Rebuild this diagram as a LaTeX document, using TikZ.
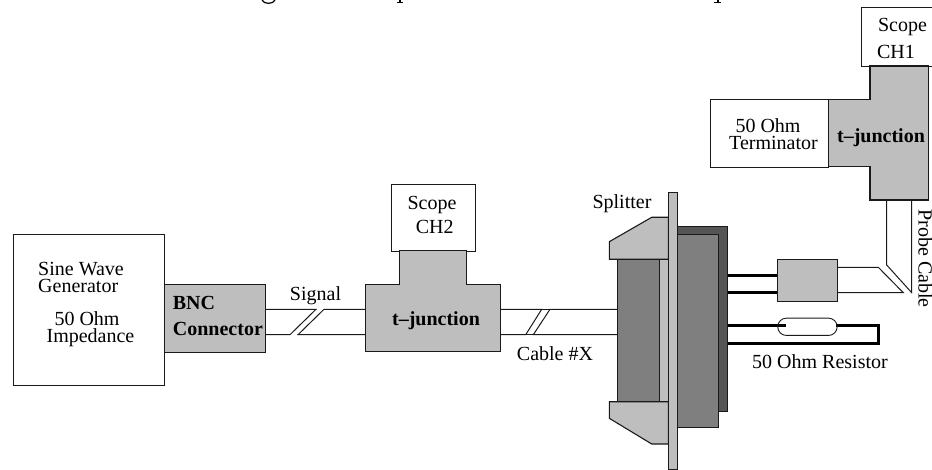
\documentclass[tikz,border=0pt]{standalone}
\usepackage{fontspec}
\setmainfont{Liberation Serif}
\definecolor{lgray}{HTML}{BEBEBE}
\definecolor{mgray}{HTML}{7F7F7F}
\definecolor{dgray}{HTML}{555555}
\definecolor{ink}{HTML}{1A1A1A}
\tikzset{
  ln/.style={draw=ink,line width=1.1pt,line join=miter},
  lite/.style={ln,fill=lgray},
  mid/.style={ln,fill=mgray},
  wire/.style={draw=black,line width=3pt},
  thin wire/.style={draw=ink,line width=1pt},
  lbl/.style={inner sep=0pt,anchor=base,font=\fontsize{20}{20}\selectfont},
  blbl/.style={lbl,font=\fontsize{20}{20}\selectfont\bfseries},
}
\begin{document}
\begin{tikzpicture}[x=1pt,y=-1pt]
\useasboundingbox (0,0) rectangle (932,470);
% cut-off title descenders
\draw[black,line width=1.2pt] (262,0) .. controls (264,4.5) and (273,4.5) .. (275,0);
\draw[black,line width=1.4pt] (396.7,2.5) -- (403,2.5);
\draw[black,line width=2pt] (400,0) -- (400,2.5);
\draw[black,line width=1.4pt] (714,2.5) -- (720.7,2.5);
\draw[black,line width=2pt] (717.5,0) -- (717.5,2.5);
% cables
\coordinate (a1) at (265,309.3); \coordinate (a2) at (316,309.3); \coordinate (a3) at (290,334.7);
\coordinate (a4) at (265,334.7); \coordinate (a5) at (324,309.3); \coordinate (a6) at (298,334.7);
\coordinate (a7) at (365.7,309.3); \coordinate (a8) at (365.7,334.7);
\draw[thin wire] (a1)--(a2)--(a3)--(a4);
\draw[thin wire] (a7)--(a5)--(a6)--(a8);
\coordinate (b1) at (500,309.3); \coordinate (b2) at (541.7,309.3); \coordinate (b3) at (525.7,334.7);
\coordinate (b4) at (500,334.7); \coordinate (b5) at (550,309.3); \coordinate (b6) at (533.3,334.7);
\coordinate (b7) at (617.3,309.3); \coordinate (b8) at (617.3,334.7);
\draw[thin wire] (b1)--(b2)--(b3)--(b4);
\draw[thin wire] (b7)--(b5)--(b6)--(b8);
\draw[thin wire] (b2)--(b5); \draw[thin wire] (b3)--(b6);
% generator and BNC
\node[ln,fill=white,minimum width=151.6pt,minimum height=151pt,inner sep=0pt,anchor=north west] (gen) at (12.7,234) {};
\node[lite,minimum width=100.7pt,minimum height=67.4pt,inner sep=0pt,anchor=north west] (bnc) at (164.3,284.3) {};
\node[lbl,anchor=base west] (t1) at (38,276) {Sine Wave};
\node[lbl,anchor=base west] (t2) at (38,292.7) {Generator};
\node[lbl] (t3) at (87,326) {50 Ohm};
\node[lbl] (t4) at (90.5,342.7) {Impedance};
\node[blbl,anchor=base west] (t5) at (172.7,310) {BNC};
\node[blbl,anchor=base west] (t6) at (172.7,335.3) {Connector};
\node[lbl] (sig) at (315.5,301) {Signal};
% t-junction 1
\node[ln,fill=white,minimum width=84.3pt,minimum height=67pt,inner sep=0pt,anchor=north west] (ch2) at (390.7,183.7) {};
\draw[lite] (399.3,250.7) -- (466.7,250.7) -- (466.7,284.3) -- (500.3,284.3) -- (500.3,351.7) -- (365.7,351.7) -- (365.7,284.3) -- (399.3,284.3) -- cycle;
\node[lbl] (t7) at (432,209.3) {Scope};
\node[lbl] (t8) at (434.7,234) {CH2};
\node[blbl] (t9) at (436,326) {t--junction};
\node[lbl] (t10) at (555,360) {Cable \#X};
% splitter
\node[ln,fill=dgray,minimum width=50pt,minimum height=185pt,inner sep=0pt,anchor=north west] (back) at (676.7,225.7) {};
\node[mid,minimum width=41.6pt,minimum height=193.3pt,inner sep=0pt,anchor=north west] (front) at (676.7,234) {};
\node[mid,minimum width=42pt,minimum height=142.4pt,inner sep=0pt,anchor=north west] (block) at (617.3,259.3) {};
\node[lite,minimum width=9pt,minimum height=142.4pt,inner sep=0pt,anchor=north west] (gap) at (659.3,259.3) {};
\draw[lite] (609.3,241.7) -- (651.7,217.3) -- (668.3,217.3) -- (668.3,259.3) -- (609.3,259.3) -- cycle;
\draw[lite] (609.3,401.7) -- (668.3,401.7) -- (668.3,444) -- (651.7,444) -- (609.3,418.3) -- cycle;
\node[lite,minimum width=8.4pt,minimum height=277.3pt,inner sep=0pt,anchor=north west] (plate) at (668.3,192) {};
\node[lbl] (t11) at (622,209) {Splitter};
% small box and wires
\node[lite,minimum width=59.4pt,minimum height=42.3pt,inner sep=0pt,anchor=north west] (sbox) at (777.3,259) {};
\draw[wire] (back.east |- 0,276) -- (sbox.west |- 0,276);
\draw[wire] (back.east |- 0,292.7) -- (sbox.west |- 0,292.7);
% resistor
\coordinate (r1) at (878.3,326); \coordinate (r2) at (878.3,343.3);
\draw[wire,line cap=butt,line join=miter] (back.east |- 0,326) -- (786,326);
\draw[wire,line join=miter] (836,326) -- (r1) -- (r2) -- (back.east |- 0,343.3);
\node[ln,line width=0.9pt,rounded corners=8.6pt,fill=none,minimum width=59.4pt,minimum height=17.3pt,inner sep=0pt,anchor=north west] (res) at (777.3,317.7) {};
\node[lbl] (t12) at (820,368) {50 Ohm Resistor};
% probe cable
\coordinate (p1) at (878.3,267.3); \coordinate (p2) at (903.3,292.7);
\coordinate (p3) at (886.7,265); \coordinate (p4) at (911.7,292.7);
\draw[thin wire] (sbox.east |- p1) -- (p1) -- (p2) -- (sbox.east |- p2);
\draw[thin wire] (886.7,200) -- (p3) -- (p4) -- (911.7,200);
\node[lbl,rotate=-90,anchor=base] (t13) at (918.5,258.5) {Probe Cable};
% t-junction 2
\node[ln,fill=white,minimum width=80pt,minimum height=59pt,inner sep=0pt,anchor=north west] (ch1) at (861.3,7) {};
\draw[lite] (870,66) -- (928.3,66) -- (928.3,200) -- (870,200) -- (870,166.7) -- (827.7,166.7) -- (827.7,99.3) -- (870,99.3) -- cycle;
\node[ln,fill=white,minimum width=117.7pt,minimum height=67.4pt,inner sep=0pt,anchor=north west] (term) at (710,99.3) {};
\node[lbl] (t14) at (768,132.7) {50 Ohm};
\node[lbl] (t15) at (773.5,150) {Terminator};
\node[blbl] (t16) at (881,142.7) {t--junction};
\node[lbl] (t17) at (902.5,32) {Scope};
\node[lbl] (t18) at (896,58.3) {CH1};
\end{tikzpicture}
\end{document}
